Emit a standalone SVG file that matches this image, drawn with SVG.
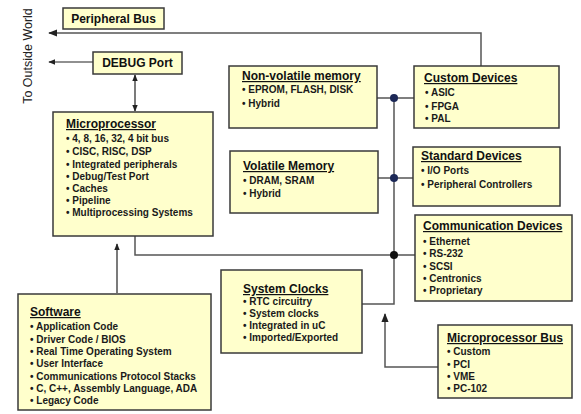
<svg xmlns="http://www.w3.org/2000/svg" width="581" height="414" viewBox="0 0 581 414">
<style>
.box{fill:#ffffcc;stroke:#3a3a3a;stroke-width:1.5}
.t{font-family:"Liberation Sans",Arial,sans-serif;font-weight:bold;font-size:12px;fill:#111;text-decoration:underline}
.h{font-family:"Liberation Sans",Arial,sans-serif;font-weight:bold;font-size:12px;fill:#111}
.i{font-family:"Liberation Sans",Arial,sans-serif;font-weight:bold;font-size:10px;fill:#1a1a1a}
.ln{fill:none;stroke:#555;stroke-width:1.5}
.ar{fill:none;stroke:#222;stroke-width:1.2}
</style>
<defs>
<marker id="ah" viewBox="0 0 10 10" refX="9" refY="5" markerWidth="6" markerHeight="6" orient="auto-start-reverse">
<path d="M0,1 L10,5 L0,9 z" fill="#222"/>
</marker>
</defs>
<text x="32" y="56" transform="rotate(-90 32 56)" text-anchor="middle" font-family="Liberation Sans, Arial, sans-serif" font-size="12.5" fill="#222">To Outside World</text>
<g id="connectors">
<polyline class="ln" points="481,66 481,33 49,33" marker-end="url(#ah)"/>
<line class="ar" x1="93" y1="62" x2="49" y2="62" marker-end="url(#ah)"/>
<line class="ar" x1="135" y1="75" x2="135" y2="111" marker-start="url(#ah)" marker-end="url(#ah)"/>
<line class="ar" x1="117" y1="293" x2="117" y2="244" marker-end="url(#ah)"/>
<polyline class="ln" points="135,236 135,255 415,255"/>
<line class="ln" x1="377" y1="98" x2="414" y2="98"/>
<line class="ln" x1="378" y1="178" x2="413" y2="178"/>
<polyline class="ln" points="394,98 394,304 362,304"/>
<polyline class="ln" points="438,367 385,367 385,314" marker-end="url(#ah)"/>
<circle cx="394" cy="98" r="4" fill="#1c2857"/>
<circle cx="394" cy="178" r="4" fill="#1c2857"/>
<circle cx="394" cy="255" r="4" fill="#111"/>
</g>
<g id="peripheral-bus">
<rect class="box" x="63" y="8" width="101" height="21"/>
<text class="h" x="113.5" y="23" text-anchor="middle">Peripheral Bus</text>
</g>
<g id="debug-port">
<rect class="box" x="93" y="52" width="89" height="22"/>
<text class="h" x="137.5" y="67" text-anchor="middle">DEBUG Port</text>
</g>
<g id="microprocessor">
<rect class="box" x="53" y="112" width="160" height="124"/>
<text class="t" x="66" y="128">Microprocessor</text>
<text class="i" x="66" y="142">•  4, 8, 16, 32, 4 bit bus</text>
<text class="i" x="66" y="155">• CISC, RISC, DSP</text>
<text class="i" x="66" y="168">• Integrated peripherals</text>
<text class="i" x="66" y="180">• Debug/Test Port</text>
<text class="i" x="66" y="192">• Caches</text>
<text class="i" x="66" y="204">• Pipeline</text>
<text class="i" x="66" y="216">• Multiprocessing Systems</text>
</g>
<g id="software">
<rect class="box" x="18" y="294" width="193" height="116"/>
<text class="t" x="30" y="316">Software</text>
<text class="i" x="30" y="330">•  Application Code</text>
<text class="i" x="30" y="343">• Driver Code / BIOS</text>
<text class="i" x="30" y="355">• Real Time Operating System</text>
<text class="i" x="30" y="367">• User Interface</text>
<text class="i" x="30" y="380">• Communications Protocol Stacks</text>
<text class="i" x="30" y="392">• C, C++, Assembly Language, ADA</text>
<text class="i" x="30" y="404">• Legacy Code</text>
</g>
<g id="non-volatile-memory">
<rect class="box" x="229" y="66" width="148" height="62"/>
<text class="t" x="242" y="80">Non-volatile memory</text>
<text class="i" x="242" y="93">•  EPROM, FLASH, DISK</text>
<text class="i" x="242" y="107">• Hybrid</text>
</g>
<g id="volatile-memory">
<rect class="box" x="230" y="151" width="148" height="62"/>
<text class="t" x="243" y="170">Volatile Memory</text>
<text class="i" x="243" y="184">•  DRAM, SRAM</text>
<text class="i" x="243" y="197">• Hybrid</text>
</g>
<g id="custom-devices">
<rect class="box" x="414" y="66" width="145" height="62"/>
<text class="t" x="424" y="82">Custom Devices</text>
<text class="i" x="425" y="96">• ASIC</text>
<text class="i" x="425" y="110">• FPGA</text>
<text class="i" x="425" y="122">• PAL</text>
</g>
<g id="standard-devices">
<rect class="box" x="413" y="147" width="147" height="59"/>
<text class="t" x="421" y="160">Standard Devices</text>
<text class="i" x="421" y="174">• I/O Ports</text>
<text class="i" x="421" y="188">• Peripheral Controllers</text>
</g>
<g id="communication-devices">
<rect class="box" x="415" y="215" width="157" height="86"/>
<text class="t" x="423" y="230">Communication Devices</text>
<text class="i" x="423" y="245">•  Ethernet</text>
<text class="i" x="423" y="257">• RS-232</text>
<text class="i" x="423" y="270">• SCSI</text>
<text class="i" x="423" y="282">• Centronics</text>
<text class="i" x="423" y="294">• Proprietary</text>
</g>
<g id="system-clocks">
<rect class="box" x="221" y="270" width="141" height="83"/>
<text class="t" x="243" y="293">System Clocks</text>
<text class="i" x="243" y="305">• RTC circuitry</text>
<text class="i" x="243" y="317">• System clocks</text>
<text class="i" x="243" y="329">• Integrated in uC</text>
<text class="i" x="243" y="341">• Imported/Exported</text>
</g>
<g id="microprocessor-bus">
<rect class="box" x="438" y="325" width="134" height="73"/>
<text class="t" x="447" y="342">Microprocessor Bus</text>
<text class="i" x="447" y="355">•  Custom</text>
<text class="i" x="447" y="368">• PCI</text>
<text class="i" x="447" y="380">• VME</text>
<text class="i" x="447" y="392">• PC-102</text>
</g>
</svg>
